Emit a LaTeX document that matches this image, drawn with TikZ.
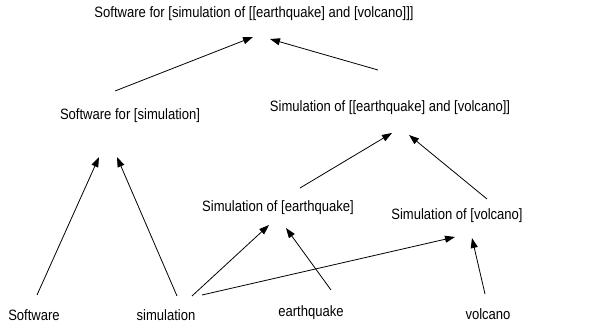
\documentclass[tikz,border=0pt]{standalone}
\usepackage{fontspec}
\setmainfont[FakeStretch=0.87]{Liberation Sans}
\usetikzlibrary{arrows.meta}
\tikzset{
  lbl/.style={inner sep=0pt, font=\fontsize{15}{17}\selectfont},
  arr/.style={line width=0.8pt, -{Triangle[length=10pt,width=7pt]}}
}
\begin{document}
\begin{tikzpicture}[x=1pt,y=-1pt]
\useasboundingbox (0,0) rectangle (606,328);
\node[lbl] (top) at (254,14) {Software for [simulation of [[earthquake] and [volcano]]]};
\node[lbl] (sfs) at (130,116) {Software for [simulation]};
\node[lbl] (soev) at (390,108) {Simulation of [[earthquake] and [volcano]]};
\node[lbl] (soe) at (278,208) {Simulation of [earthquake]};
\node[lbl] (sov) at (457,216) {Simulation of [volcano]};
\node[lbl] (sw) at (34,315) {Software};
\node[lbl] (sim) at (166,315) {simulation};
\node[lbl] (eq) at (311,313) {earthquake};
\node[lbl] (vol) at (488,314) {volcano};
\draw[arr] ([shift={(-15,-25)}]sfs.center) -- ([shift={(-1,23)}]top.center);
\draw[arr] ([shift={(-12,-38)}]soev.center) -- ([shift={(16,25)}]top.center);
\draw[arr] ([shift={(3,-20)}]sw.center) -- ([shift={(-31,41)}]sfs.center);
\draw[arr] ([shift={(11,-19)}]sim.center) -- ([shift={(-13,41)}]sfs.center);
\draw[arr] ([shift={(22,-20)}]soe.center) -- ([shift={(2,25)}]soev.center);
\draw[arr] ([shift={(30,-17)}]sov.center) -- ([shift={(19,27)}]soev.center);
\draw[arr] ([shift={(26,-19)}]sim.center) -- ([shift={(-9,17)}]soe.center);
\draw[arr] ([shift={(36,-20)}]sim.center) -- ([shift={(-2,21)}]sov.center);
\draw[arr] ([shift={(20,-23)}]eq.center) -- ([shift={(8,20)}]soe.center);
\draw[arr] ([shift={(-3,-20)}]vol.center) -- ([shift={(15,22)}]sov.center);
\end{tikzpicture}
\end{document}
